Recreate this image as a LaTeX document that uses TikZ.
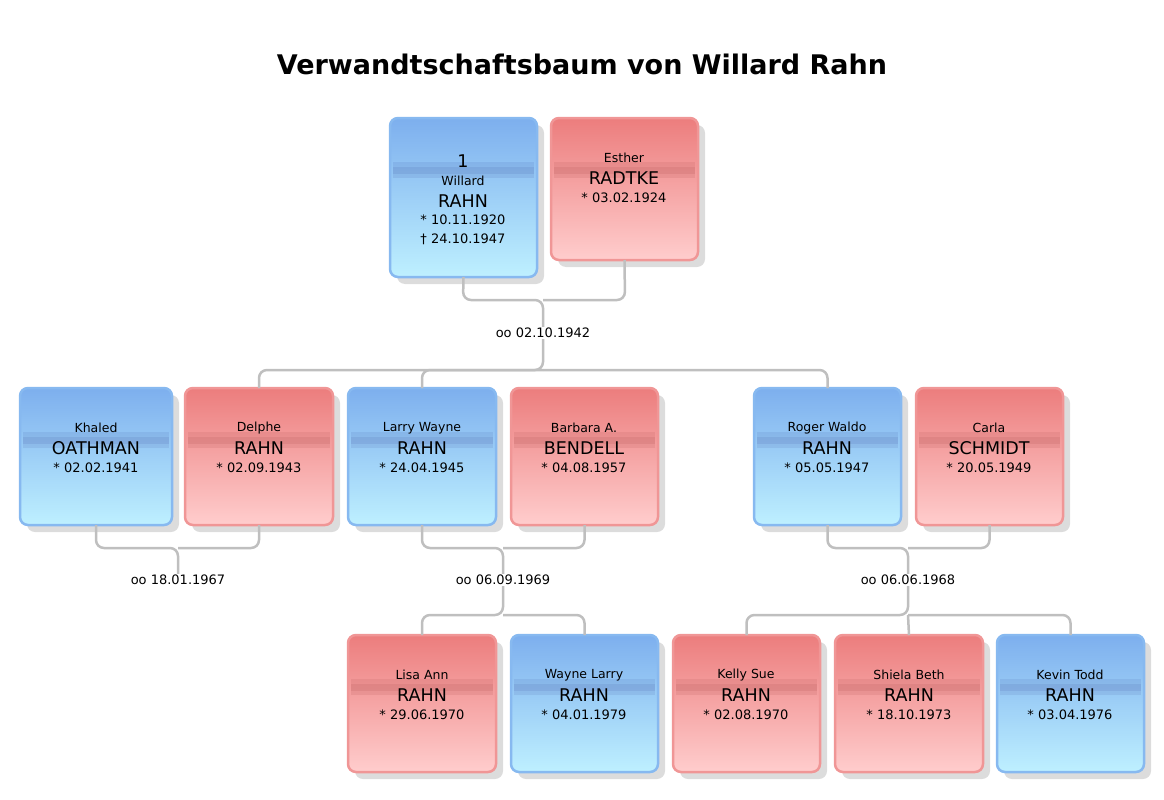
\documentclass[tikz,border=0pt]{standalone}
\usepackage{fontspec}
\setmainfont{DejaVu Sans}
\usetikzlibrary{shadows}
\definecolor{bdr}{RGB}{135,185,240}
\definecolor{btop}{RGB}{125,175,238}
\definecolor{bbot}{RGB}{190,240,255}
\definecolor{rdr}{RGB}{240,150,150}
\definecolor{rtop}{RGB}{236,125,125}
\definecolor{rbot}{RGB}{255,205,205}
\begin{document}
\begin{tikzpicture}[x=1pt,y=-1pt,
  box/.style={draw=#1,line width=2.5pt,rounded corners=8pt,
     drop shadow={shadow xshift=7pt,shadow yshift=-7pt,fill=black!30,opacity=0.45}},
  m/.style={draw=black!25,line width=2.5pt,rounded corners=8pt},
  fn/.style={font=\fontsize{12.5}{14}\selectfont},
  sn/.style={font=\fontsize{17.5}{20}\selectfont},
  dt/.style={font=\fontsize{13}{15}\selectfont},
  lbl/.style={font=\fontsize{13}{15}\selectfont,fill=white,inner sep=1pt}]
\useasboundingbox (0,0) rectangle (1164,800);
\newcommand\pbox[7]{%
  \ifx#6b
   \path[box=bdr,top color=btop,bottom color=bbot] (#2,#3) rectangle (#4,#5);
   \fill[blue!40!black,opacity=0.07] (#2+3,#3+44) rectangle (#4-3,#3+60);
   \fill[blue!40!black,opacity=0.07] (#2+3,#3+49) rectangle (#4-3,#3+56);
  \else
   \path[box=rdr,top color=rtop,bottom color=rbot] (#2,#3) rectangle (#4,#5);
   \fill[red!40!black,opacity=0.07] (#2+3,#3+44) rectangle (#4-3,#3+60);
   \fill[red!40!black,opacity=0.07] (#2+3,#3+49) rectangle (#4-3,#3+56);
  \fi
  \coordinate (#1) at ({(#2+#4)/2},#5);
  \coordinate (#1t) at ({(#2+#4)/2},#3);
  #7}
\newcommand\three[5]{%
  \node[fn] at (#1,#2+40) {#3};
  \node[sn] at (#1,#2+60) {#4};
  \node[dt] at (#1,#2+80) {#5};}
\node[font=\bfseries\fontsize{27}{30}\selectfont] (title) at (582,64) {Verwandtschaftsbaum von Willard Rahn};
\pbox{wil}{390}{118}{537}{277}{b}{
  \node[font=\fontsize{17.5}{20}\selectfont] at (463,161) {1};
  \node[fn] at (463,181) {Willard};
  \node[sn] at (463,201) {RAHN};
  \node[dt] at (463,220) {* 10.11.1920};
  \node[dt] at (463,239) {† 24.10.1947};}
\pbox{est}{551}{118}{698}{260}{r}{\three{624}{118}{Esther}{RADTKE}{* 03.02.1924}}
\pbox{kha}{20}{388}{172}{525}{b}{\three{96}{388}{Khaled}{OATHMAN}{* 02.02.1941}}
\pbox{del}{185}{388}{333}{525}{r}{\three{259}{388}{Delphe}{RAHN}{* 02.09.1943}}
\pbox{lar}{348}{388}{496}{525}{b}{\three{422}{388}{Larry Wayne}{RAHN}{* 24.04.1945}}
\pbox{bar}{511}{388}{658}{525}{r}{\three{584}{388}{Barbara A.}{BENDELL}{* 04.08.1957}}
\pbox{rog}{754}{388}{901}{525}{b}{\three{827}{388}{Roger Waldo}{RAHN}{* 05.05.1947}}
\pbox{car}{916}{388}{1063}{525}{r}{\three{989}{388}{Carla}{SCHMIDT}{* 20.05.1949}}
\pbox{lis}{348}{635}{496}{772}{r}{\three{422}{635}{Lisa Ann}{RAHN}{* 29.06.1970}}
\pbox{way}{511}{635}{658}{772}{b}{\three{584}{635}{Wayne Larry}{RAHN}{* 04.01.1979}}
\pbox{kel}{673}{635}{820}{772}{r}{\three{746}{635}{Kelly Sue}{RAHN}{* 02.08.1970}}
\pbox{shi}{835}{635}{983}{772}{r}{\three{909}{635}{Shiela Beth}{RAHN}{* 18.10.1973}}
\pbox{kev}{997}{635}{1144}{772}{b}{\three{1070}{635}{Kevin Todd}{RAHN}{* 03.04.1976}}
\node[lbl] (m1) at (543,333) {oo 02.10.1942};
\node[lbl] (m2) at (178,580) {oo 18.01.1967};
\node[lbl] (m3) at (503,580) {oo 06.09.1969};
\node[lbl] (m4) at (908,580) {oo 06.06.1968};
\draw[m] (wil) -- (463,300) -- (543,300) -- (m1.north);
\draw[m] (est) -- (625,300) -- (543,300);
\draw[m] (m1.south) -- (543,370) -| (delt);
\draw[m] (543,370) -| (rogt);
\draw[m] (543,370) -| (lart);
\draw[m] (kha) |- (178,548) -- (m2.north);
\draw[m] (del) |- (178,548);
\draw[m] (lar) |- (503,548) -- (m3.north);
\draw[m] (bar) |- (503,548);
\draw[m] (m3.south) -- (503,615) -| (list);
\draw[m] (503,615) -| (wayt);
\draw[m] (rog) |- (908,548) -- (m4.north);
\draw[m] (car) |- (908,548);
\draw[m] (m4.south) -- (908,615) -| (kelt);
\draw[m] (908,615) -| (kevt);
\draw[m] (908,615) -- (shit);
\end{tikzpicture}
\end{document}
